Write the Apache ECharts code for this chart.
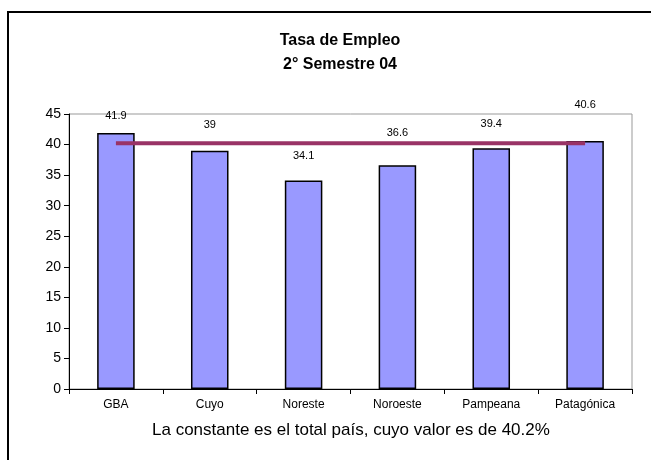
<!DOCTYPE html>
<html>
<head>
<meta charset="utf-8">
<script src="https://cdn.jsdelivr.net/npm/echarts@6/dist/echarts.min.js"></script>
<style>
  html, body { margin: 0; padding: 0; background: #fff; }
  #chart { width: 651px; height: 460px; }
</style>
</head>
<body>
<div id="chart"></div>
<script>
// datos
var regiones = ['GBA', 'Cuyo', 'Noreste', 'Noroeste', 'Pampeana', 'Patagónica']
var tasaEmpleo = [41.9, 39, 34.1, 36.6, 39.4, 40.6]
var totalPais = [40.2, 40.2, 40.2, 40.2, 40.2, 40.2]
// desplazamiento vertical de cada etiqueta (como en el original)
var labelDy = [8, -1, 0, -8, 0, -11]

var chart = echarts.init(document.getElementById('chart'))
var font = 'Liberation Sans, Arial, sans-serif'

var option = {
  animation: false,
  backgroundColor: '#fff',
  title: {
    text: 'Tasa de Empleo\n2° Semestre 04',
    left: 335,
    top: 24,
    textAlign: 'center',
    textStyle: {
      fontFamily: font,
      fontSize: 16,
      fontWeight: 'bold',
      color: '#000',
      lineHeight: 24
    }
  },
  graphic: [
    {
      type: 'rect',
      shape: { x: 8, y: 12, width: 700, height: 500 },
      style: { fill: 'none', stroke: '#000', lineWidth: 2 },
      silent: true
    },
    {
      type: 'text',
      left: 152,
      top: 422,
      style: {
        text: 'La constante es el total país, cuyo valor es de 40.2%',
        font: '17px ' + font,
        fill: '#000'
      }
    }
  ],
  grid: {
    left: 69,
    right: 19,
    top: 114,
    bottom: 71,
    show: true,
    borderColor: '#999',
    borderWidth: 1
  },
  xAxis: {
    type: 'category',
    data: regiones,
    axisLine: { lineStyle: { color: '#000' } },
    axisTick: { show: true, alignWithLabel: false, length: 5, lineStyle: { color: '#000' } },
    axisLabel: { fontFamily: font, fontSize: 12, color: '#000', margin: 10 }
  },
  yAxis: {
    type: 'value',
    min: 0,
    max: 45,
    interval: 5,
    axisLine: { show: true, lineStyle: { color: '#000' } },
    axisTick: { show: true, length: 5, lineStyle: { color: '#000' } },
    axisLabel: { fontFamily: font, fontSize: 14, color: '#000', margin: 8 },
    splitLine: { show: false }
  },
  series: [
    {
      name: 'Tasa de Empleo',
      type: 'bar',
      data: tasaEmpleo.map(function (v, i) {
        return { value: v, label: { offset: [0, labelDy[i]] } }
      }),
      barWidth: '40%',
      itemStyle: { color: '#9999ff', borderColor: '#000', borderWidth: 1.5 },
      label: {
        show: true,
        position: 'top',
        distance: 19,
        fontFamily: font,
        fontSize: 11,
        color: '#000'
      }
    },
    {
      name: 'Total país',
      type: 'line',
      data: totalPais,
      symbol: 'none',
      lineStyle: { color: '#993366', width: 4 },
      z: 3
    }
  ]
}
chart.setOption(option)
</script>
</body>
</html>
